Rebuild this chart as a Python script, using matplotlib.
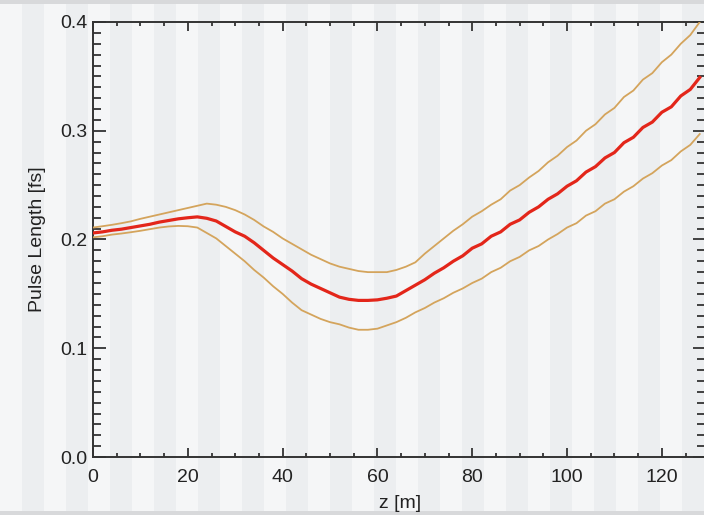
"""
Pulse length along the undulator: mean (red) with upper / lower envelope.
Saves out.png (704x515).
"""

import matplotlib
matplotlib.use("Agg")
import matplotlib.pyplot as plt
from matplotlib.patches import Rectangle
from matplotlib.ticker import MultipleLocator, FormatStrFormatter

plt.rcParams.update({"font.family": ["Liberation Sans", "DejaVu Sans"],
                     "font.size": 14})

# z positions [m], every 2 m
z = list(range(0, 130, 2))

# mean pulse length [fs]
pulse_mean = [
    0.206, 0.207, 0.2085, 0.2095, 0.211, 0.2125, 0.214, 0.216, 0.2175, 0.219,
    0.220, 0.2208, 0.2195, 0.217, 0.212, 0.207, 0.203, 0.197, 0.190, 0.183,
    0.177, 0.171, 0.164, 0.159, 0.155, 0.151, 0.147, 0.145, 0.144, 0.144,
    0.1445, 0.146, 0.148, 0.153, 0.158, 0.163, 0.169, 0.174, 0.180, 0.185,
    0.192, 0.196, 0.203, 0.207, 0.214, 0.218, 0.225, 0.230, 0.237, 0.242,
    0.249, 0.254, 0.262, 0.267, 0.275, 0.280, 0.289, 0.294, 0.303, 0.308,
    0.317, 0.322, 0.332, 0.338, 0.349,
]

# upper envelope
pulse_upper = [
    0.211, 0.2122, 0.2135, 0.215, 0.2167, 0.219, 0.221, 0.223, 0.225, 0.227,
    0.229, 0.231, 0.233, 0.232, 0.230, 0.227, 0.223, 0.218, 0.212, 0.207,
    0.201, 0.196, 0.191, 0.186, 0.182, 0.178, 0.175, 0.173, 0.171, 0.170,
    0.170, 0.170, 0.172, 0.175, 0.179, 0.187, 0.194, 0.201, 0.208, 0.214,
    0.221, 0.226, 0.232, 0.237, 0.245, 0.250, 0.257, 0.263, 0.271, 0.277,
    0.285, 0.291, 0.300, 0.306, 0.315, 0.321, 0.331, 0.337, 0.347, 0.353,
    0.363, 0.370, 0.380, 0.388, 0.400,
]

# lower envelope
pulse_lower = [
    0.202, 0.203, 0.2045, 0.2055, 0.2067, 0.208, 0.2095, 0.211, 0.212, 0.2125,
    0.2122, 0.211, 0.206, 0.201, 0.194, 0.187, 0.180, 0.172, 0.165, 0.157,
    0.150, 0.142, 0.135, 0.131, 0.127, 0.124, 0.122, 0.119, 0.117, 0.117,
    0.118, 0.121, 0.124, 0.128, 0.133, 0.137, 0.142, 0.146, 0.151, 0.155,
    0.160, 0.164, 0.170, 0.174, 0.180, 0.184, 0.190, 0.194, 0.200, 0.205,
    0.211, 0.215, 0.222, 0.226, 0.233, 0.237, 0.244, 0.249, 0.256, 0.261,
    0.268, 0.273, 0.281, 0.287, 0.297,
]

W, H = 704, 515
fig = plt.figure(figsize=(W / 100, H / 100), dpi=100)
fig.patch.set_facecolor("#f5f6f7")

# striped slide background
for x0 in range(0, W, 44):
    fig.add_artist(Rectangle((x0 / W + 22 / W, 0), 22 / W, 1, transform=fig.transFigure,
                             facecolor="#eceef0", edgecolor="none", zorder=-10))
for y0 in (0, H - 4):
    fig.add_artist(Rectangle((0, y0 / H), 1, 4 / H, transform=fig.transFigure,
                             facecolor="#d8d9db", edgecolor="none", zorder=-9))

ax = fig.add_axes([93 / W, 58 / H, 611.5 / W, 435 / H])
ax.set_facecolor("none")

ax.plot(z, pulse_upper, color="#d4a45c", lw=1.3, zorder=3)
ax.plot(z, pulse_lower, color="#d4a45c", lw=1.3, zorder=3)
ax.plot(z, pulse_mean, color="#e3261a", lw=2.3, zorder=4)

ax.set_xlim(0, 129)
ax.set_ylim(0, 0.4)
ax.xaxis.set_major_locator(MultipleLocator(20))
ax.xaxis.set_minor_locator(MultipleLocator(5))
ax.yaxis.set_major_locator(MultipleLocator(0.1))
ax.yaxis.set_minor_locator(MultipleLocator(0.01))
ax.yaxis.set_major_formatter(FormatStrFormatter("%.1f"))

for s in ax.spines.values():
    s.set_linewidth(1.4)
    s.set_color("#333333")
ax.tick_params(which="both", direction="in", top=True, right=True,
               color="#333333", width=1.3, labelcolor="#222222")
ax.tick_params(axis="x", which="major", length=6.5, pad=9)
ax.tick_params(axis="x", which="minor", length=3)
ax.tick_params(axis="y", which="major", length=9, pad=4)
ax.tick_params(axis="y", which="minor", length=5.5)

ax.set_xlabel("z [m]", color="#222222")
ax.set_ylabel("Pulse Length [fs]", color="#222222")
ax.xaxis.set_label_coords(0.502, -0.087)
ax.yaxis.set_label_coords(-0.077, 0.5)

fig.savefig("out.png", dpi=100)
